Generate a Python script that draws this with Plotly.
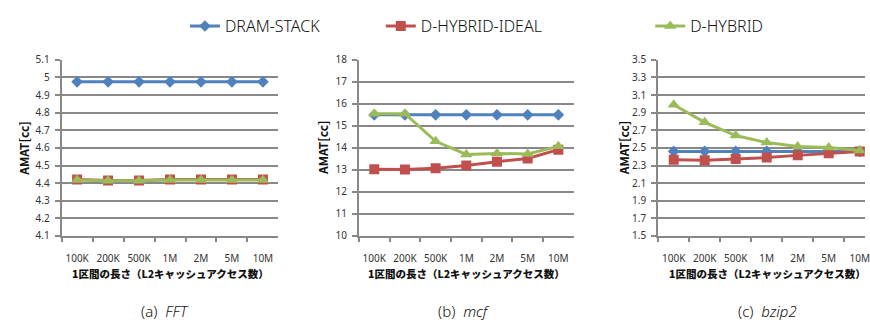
import plotly.graph_objects as go

W, H = 870, 325

categories = ["100K", "200K", "500K", "1M", "2M", "5M", "10M"]
series_names = ["DRAM-STACK", "D-HYBRID-IDEAL", "D-HYBRID"]

# (a) FFT
fft_dram = [4.975, 4.975, 4.975, 4.975, 4.975, 4.975, 4.975]
fft_ideal = [4.42, 4.415, 4.415, 4.42, 4.42, 4.42, 4.42]
fft_hybrid = [4.418, 4.413, 4.413, 4.418, 4.418, 4.418, 4.418]

# (b) mcf
mcf_dram = [15.5, 15.5, 15.5, 15.5, 15.5, 15.5, 15.5]
mcf_ideal = [13.03, 13.02, 13.08, 13.2, 13.37, 13.52, 13.92]
mcf_hybrid = [15.55, 15.55, 14.3, 13.7, 13.75, 13.72, 14.07]

# (c) bzip2
bzip_dram = [2.46, 2.46, 2.46, 2.46, 2.46, 2.46, 2.46]
bzip_ideal = [2.365, 2.36, 2.375, 2.39, 2.415, 2.44, 2.46]
bzip_hybrid = [2.99, 2.79, 2.64, 2.56, 2.515, 2.505, 2.47]

fft_ticks = ["4.1", "4.2", "4.3", "4.4", "4.5", "4.6", "4.7", "4.8", "4.9", "5", "5.1"]
mcf_ticks = ["10", "11", "12", "13", "14", "15", "16", "17", "18"]
bzip_ticks = ["1.5", "1.7", "1.9", "2.1", "2.3", "2.5", "2.7", "2.9", "3.1", "3.3", "3.5"]

panel_captions = ["(a)", "(b)", "(c)"]
panel_names = ["FFT", "mcf", "bzip2"]
y_title = "AMAT[cc]"
x_title = "1区間の長さ（L2キャッシュアクセス数）"

colors = ["#4F81BD", "#C0504D", "#9BBB59"]
symbols = ["diamond", "square", "triangle-up"]
msizes = [9, 10, 11]
GRID = "#888888"


def px(x):
    return x / W


def py(y):
    return 1 - y / H


panels = [
    dict(data=[fft_dram, fft_ideal, fft_hybrid], ticks=fft_ticks,
         yr=[4.1, 5.1], left=62, right=280, xr=[-0.5, 6.5],
         ytitle_x=24, cap_x=166),
    dict(data=[mcf_dram, mcf_ideal, mcf_hybrid], ticks=mcf_ticks,
         yr=[10, 18], left=361, right=577, xr=[-0.5, 6.5],
         ytitle_x=325, cap_x=467),
    dict(data=[bzip_dram, bzip_ideal, bzip_hybrid], ticks=bzip_ticks,
         yr=[1.5, 3.5], left=662, right=870, xr=[-0.5, 6.17],
         ytitle_x=627, cap_x=772),
]

PLOT_TOP, PLOT_BOTTOM = 54.3, 239

fig = go.Figure()
layout = dict(
    width=W, height=H, margin=dict(l=0, r=0, t=0, b=0),
    paper_bgcolor="white", plot_bgcolor="white",
    font=dict(family="Noto Sans, DejaVu Sans, sans-serif", color="#222"),
)

legend_x = [186, 383, 654]
annotations = []

for i, p in enumerate(panels):
    suffix = "" if i == 0 else str(i + 1)
    xa, ya = "x" + suffix, "y" + suffix
    for k in range(3):
        fig.add_trace(go.Scatter(
            x=categories, y=p["data"][k], name=series_names[k],
            mode="lines+markers", xaxis=xa, yaxis=ya,
            line=dict(color=colors[k], width=3),
            marker=dict(symbol=symbols[k], size=msizes[k], color=colors[k]),
            showlegend=(i == 0),
            legend=("legend" if k == 0 else "legend" + str(k + 1)),
        ))
    tv = [float(t) for t in p["ticks"]]
    layout["xaxis" + suffix] = dict(
        domain=[px(p["left"]), px(p["right"])], anchor=ya,
        type="category", range=p["xr"], tickson="boundaries",
        ticks="outside", ticklen=4, tickwidth=1.5, tickcolor=GRID,
        showline=True, linecolor=GRID, linewidth=2, showgrid=False,
        tickangle=0, tickfont=dict(size=10, color="#333"),
        ticklabelstandoff=12, fixedrange=True,
    )
    layout["yaxis" + suffix] = dict(
        domain=[py(PLOT_BOTTOM), py(PLOT_TOP)], anchor=xa,
        range=p["yr"], tickvals=tv, ticktext=p["ticks"],
        ticks="outside", ticklen=5, tickwidth=2, tickcolor=GRID,
        showline=True, linecolor=GRID, linewidth=2,
        showgrid=True, gridcolor=GRID, gridwidth=2, zeroline=False,
        tickfont=dict(size=10, color="#333"), ticklabelstandoff=3,
        fixedrange=True,
    )
    mid = (p["left"] + p["right"]) / 2 if i < 2 else (p["left"] + 881) / 2
    annotations.append(dict(
        text="<b>" + y_title + "</b>", textangle=-90, x=px(p["ytitle_x"]),
        y=py((PLOT_TOP + PLOT_BOTTOM) / 2), xref="paper", yref="paper",
        showarrow=False, xanchor="center", yanchor="middle",
        font=dict(size=12, family="Noto Sans CJK JP", color="#111",
                  weight=900),
    ))
    annotations.append(dict(
        text=x_title, x=px(mid), y=py(278),
        xref="paper", yref="paper", showarrow=False,
        xanchor="center", yanchor="middle",
        font=dict(size=10.5, family="Noto Sans CJK JP", color="#111",
                  weight=900),
    ))
    annotations.append(dict(
        text=panel_captions[i] + "&nbsp;&nbsp;<i>" + panel_names[i] + "</i>",
        x=px(p["cap_x"]), y=py(318), xref="paper", yref="paper",
        showarrow=False, xanchor="center", yanchor="middle",
        font=dict(size=15, family="Noto Sans", color="#111", weight=300),
    ))

for k in range(3):
    key = "legend" if k == 0 else "legend" + str(k + 1)
    layout[key] = dict(
        x=px(legend_x[k]), y=py(19), xanchor="left", yanchor="middle",
        orientation="h", bgcolor="rgba(0,0,0,0)",
        font=dict(size=16, family="Noto Sans", color="#111", weight=300),
        itemwidth=30,
    )

layout["annotations"] = annotations
fig.update_layout(**layout)
fig.write_html("out.html")
